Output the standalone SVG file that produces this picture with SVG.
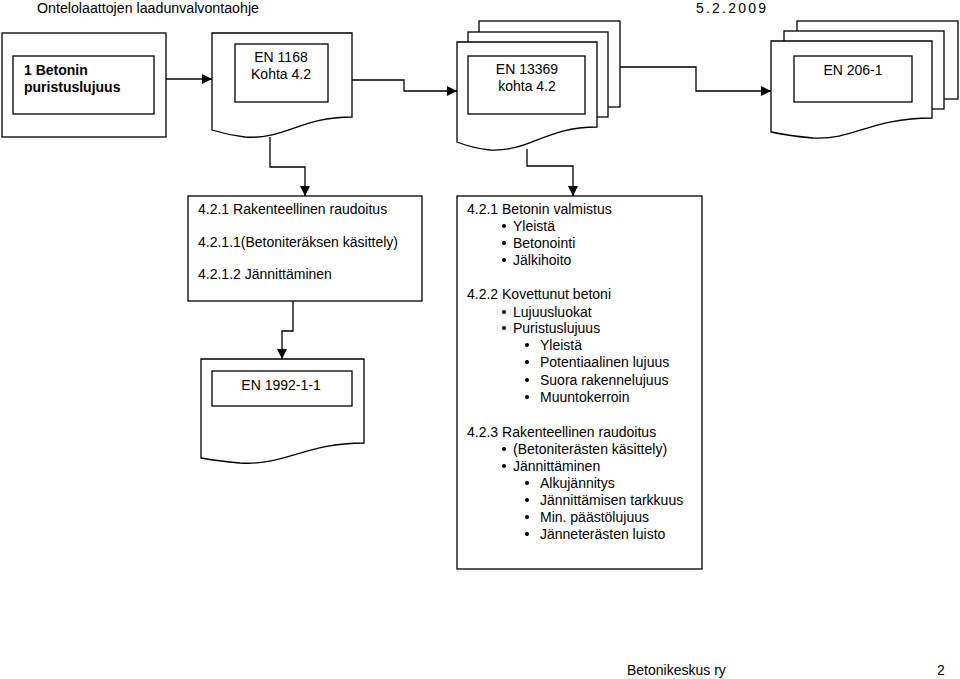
<svg xmlns="http://www.w3.org/2000/svg" width="960" height="679" viewBox="0 0 960 679">
<defs>
<style>
.s{fill:#fff;stroke:#000;stroke-width:1.3}
.t{font-family:"Liberation Sans",Arial,sans-serif;font-size:14px;fill:#000}
.b{font-weight:bold}
.m{text-anchor:middle}
.c{fill:none;stroke:#000;stroke-width:1.3}
</style>
<marker id="ah" viewBox="0 0 10 10" refX="10" refY="5" markerWidth="10" markerHeight="10" markerUnits="userSpaceOnUse" orient="auto">
<path d="M0,0 L10,5 L0,10 Z" fill="#000"/>
</marker>
</defs>
<rect width="960" height="679" fill="#fff"/>
<g id="header">
<text class="t" x="37" y="13" textLength="222" lengthAdjust="spacingAndGlyphs">Ontelolaattojen laadunvalvontaohje</text>
<text class="t" x="696" y="13" textLength="70" lengthAdjust="spacing">5.2.2009</text>
</g>
<g id="n1">
<rect class="s" x="2" y="33" width="164" height="104"/>
<rect class="s" x="13" y="56" width="141" height="58"/>
<text class="t b" x="24" y="75">1 Betonin</text>
<text class="t b" x="24" y="92">puristuslujuus</text>
</g>
<g id="doc1">
<path class="s" d="M212,33 H352 V117 C300,117 285,140 245,137 Q228,135 212,130 Z"/>
<rect class="s" x="235" y="44" width="93" height="58"/>
<text class="t m" x="281" y="62">EN 1168</text>
<text class="t m" x="281" y="79">Kohta 4.2</text>
</g>
<g id="doc2">
<rect class="s" x="479" y="21" width="141" height="86"/>
<rect class="s" x="468" y="32" width="140" height="85"/>
<path class="s" d="M457,42 H597 V127 C545,127 530,152 490,150 Q472,148 457,142 Z"/>
<rect class="s" x="468" y="56" width="117" height="58"/>
<text class="t m" x="527" y="74">EN 13369</text>
<text class="t m" x="527" y="91">kohta 4.2</text>
</g>
<g id="doc3">
<rect class="s" x="797" y="21" width="161" height="78"/>
<rect class="s" x="784" y="31" width="160" height="78"/>
<path class="s" d="M771,41 H932 V118 C870,118 855,140 813,138 Q790,136 771,132 Z"/>
<rect class="s" x="794" y="56" width="118" height="46"/>
<text class="t m" x="853" y="75">EN 206-1</text>
</g>
<g id="box421">
<rect class="s" x="188" y="196" width="234" height="105"/>
<text class="t" x="198" y="214">4.2.1 Rakenteellinen raudoitus</text>
<text class="t" x="198" y="247">4.2.1.1(Betoniteräksen käsittely)</text>
<text class="t" x="198" y="279">4.2.1.2 Jännittäminen</text>
</g>
<g id="doc4">
<path class="s" d="M201,359 H364 V443 C305,443 285,466 240,463 Q218,461 201,458 Z"/>
<rect class="s" x="212" y="371" width="140" height="35"/>
<text class="t m" x="281" y="390">EN 1992-1-1</text>
</g>
<g id="boxlist">
<rect class="s" x="457" y="196" width="245" height="373"/>
<g class="t">
<text x="467" y="214">4.2.1 Betonin valmistus</text>
<text x="513" y="231">Yleistä</text>
<text x="513" y="248">Betonointi</text>
<text x="513" y="265">Jälkihoito</text>
<text x="467" y="299">4.2.2 Kovettunut betoni</text>
<text x="513" y="317">Lujuusluokat</text>
<text x="513" y="333">Puristuslujuus</text>
<text x="540" y="350">Yleistä</text>
<text x="540" y="367">Potentiaalinen lujuus</text>
<text x="540" y="385">Suora rakennelujuus</text>
<text x="540" y="402">Muuntokerroin</text>
<text x="467" y="437">4.2.3 Rakenteellinen raudoitus</text>
<text x="513" y="454">(Betoniterästen käsittely)</text>
<text x="513" y="471">Jännittäminen</text>
<text x="540" y="488">Alkujännitys</text>
<text x="540" y="505">Jännittämisen tarkkuus</text>
<text x="540" y="522">Min. päästölujuus</text>
<text x="540" y="539">Jänneterästen luisto</text>
</g>
<g fill="#000">
<circle cx="504" cy="226" r="2"/>
<circle cx="504" cy="243" r="2"/>
<circle cx="504" cy="260" r="2"/>
<circle cx="504" cy="312" r="2"/>
<circle cx="504" cy="328" r="2"/>
<circle cx="527" cy="345" r="2"/>
<circle cx="527" cy="362" r="2"/>
<circle cx="527" cy="380" r="2"/>
<circle cx="527" cy="397" r="2"/>
<circle cx="504" cy="449" r="2"/>
<circle cx="504" cy="466" r="2"/>
<circle cx="527" cy="483" r="2"/>
<circle cx="527" cy="500" r="2"/>
<circle cx="527" cy="517" r="2"/>
<circle cx="527" cy="534" r="2"/>
</g>
</g>
<g id="connectors">
<path class="c" d="M166,79 H212" marker-end="url(#ah)"/>
<path class="c" d="M352,80 H404 V91 H457" marker-end="url(#ah)"/>
<path class="c" d="M620,67 H696 V91 H771" marker-end="url(#ah)"/>
<path class="c" d="M270,137 V167 H305 V196" marker-end="url(#ah)"/>
<path class="c" d="M527,149 V166 H573 V196" marker-end="url(#ah)"/>
<path class="c" d="M293,301 V331 H282 V359" marker-end="url(#ah)"/>
</g>
<g id="footer">
<text class="t" x="627" y="675">Betonikeskus ry</text>
<text class="t" x="937" y="675">2</text>
</g>
</svg>
